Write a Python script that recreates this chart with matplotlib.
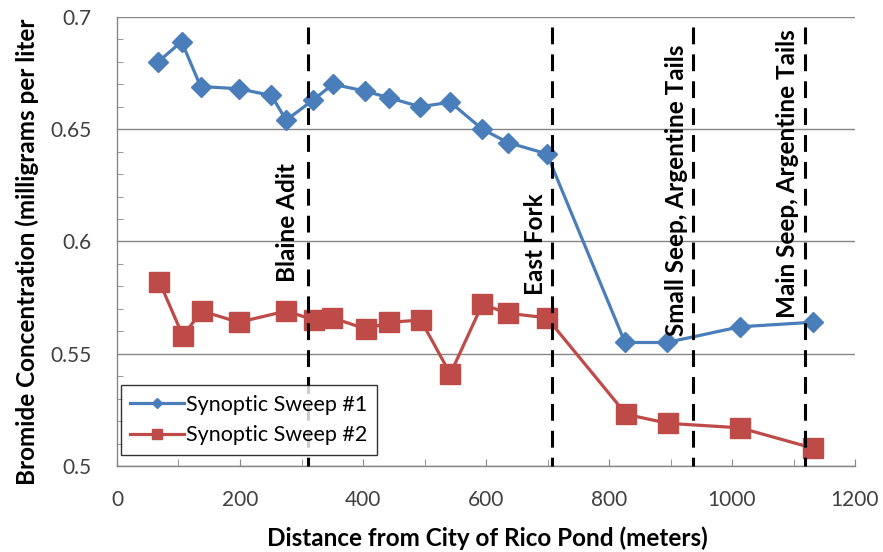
import matplotlib
matplotlib.use("Agg")
import matplotlib.pyplot as plt
from matplotlib.ticker import MultipleLocator

plt.rcParams['font.family'] = ['Lato', 'DejaVu Sans']

# sampling stations, distance downstream (m) and bromide (mg/L)
sweep1_x = [67, 105, 136, 198, 251, 275, 319, 351, 403, 442, 493, 542, 594, 636, 699, 826, 894, 1013, 1131]
sweep1_y = [0.680, 0.689, 0.669, 0.668, 0.665, 0.654, 0.663, 0.670, 0.667, 0.664, 0.660, 0.662,
            0.650, 0.644, 0.639, 0.555, 0.555, 0.562, 0.564]
sweep2_x = [69, 107, 138, 198, 275, 321, 350, 405, 443, 494, 542, 594, 636, 699, 828, 896, 1013, 1131]
sweep2_y = [0.582, 0.558, 0.569, 0.564, 0.569, 0.565, 0.566, 0.561, 0.564, 0.565, 0.541, 0.572,
            0.568, 0.566, 0.523, 0.519, 0.517, 0.508]

# inflow locations and their labels
inflow_x = [311, 708, 937, 1118]
inflow_names = ["Blaine Adit", "East Fork", "Small Seep, Argentine Tails", "Main Seep, Argentine Tails"]
label_x = [278, 680, 910, 1090]
label_y = [0.582, 0.576, 0.558, 0.566]

BLUE = "#4A7EBB"
RED = "#BE4B48"
GREY = "#868686"

fig = plt.figure(figsize=(8.83, 5.52), dpi=100)
ax = fig.add_axes([0.1325, 0.1558, 0.8358, 0.8136])

ax.plot(sweep1_x, sweep1_y, color=BLUE, lw=2.3, marker="D", ms=10.5, mec=BLUE,
        label="Synoptic Sweep #1", zorder=3)
ax.plot(sweep2_x, sweep2_y, color=RED, lw=2.3, marker="s", ms=14, mec=RED,
        label="Synoptic Sweep #2", zorder=3)

for xv in inflow_x:
    ax.plot([xv, xv], [0.6956, 0.5], color="black", lw=2.2,
            linestyle=(0, (5.5, 3.3)), zorder=4, clip_on=False)
for name, tx, ty in zip(inflow_names, label_x, label_y):
    ax.text(tx, ty, name, rotation=90, ha="center", va="bottom",
            fontsize=17.5, fontweight="bold", zorder=5)

ax.set_xlim(0, 1200)
ax.set_ylim(0.5, 0.7)
ax.xaxis.set_major_locator(MultipleLocator(200))
ax.xaxis.set_minor_locator(MultipleLocator(100))
ax.yaxis.set_major_locator(MultipleLocator(0.05))
ax.yaxis.set_minor_locator(MultipleLocator(0.01))
ax.set_yticks([0.5, 0.55, 0.6, 0.65, 0.7])
ax.set_yticklabels(["0.5", "0.55", "0.6", "0.65", "0.7"])

ax.grid(axis="y", which="major", color=GREY, lw=1)
ax.set_axisbelow(True)
for side in ("top", "right"):
    ax.spines[side].set_visible(False)
for side in ("left", "bottom"):
    ax.spines[side].set_color(GREY)
    ax.spines[side].set_linewidth(1)

ax.tick_params(axis="x", which="both", direction="in", length=5, color=GREY,
               labelsize=15, labelcolor="#404040", pad=17)
ax.tick_params(axis="y", which="major", length=0, labelsize=15,
               labelcolor="#404040", pad=18.5)
ax.tick_params(axis="y", which="minor", direction="in", length=4.5, color=GREY)

fig.text(0.031, 0.544, "Bromide Concentration (milligrams per liter", rotation=90,
         ha="center", va="center", fontsize=17.5, fontweight="bold")
fig.text(0.5515, 0.025, "Distance from City of Rico Pond (meters)",
         ha="center", va="center", fontsize=17.5, fontweight="bold")

leg = ax.legend(loc="lower left", bbox_to_anchor=(0.005, 0.0245), fontsize=15.5,
                frameon=True, fancybox=False, edgecolor="black", markerscale=0.5,
                handlelength=2.5, handletextpad=0.1, borderpad=0.45, labelspacing=0.5,
                borderaxespad=0)
leg.get_frame().set_linewidth(1)
leg.set_zorder(6)

fig.savefig("out.png", dpi=100)
